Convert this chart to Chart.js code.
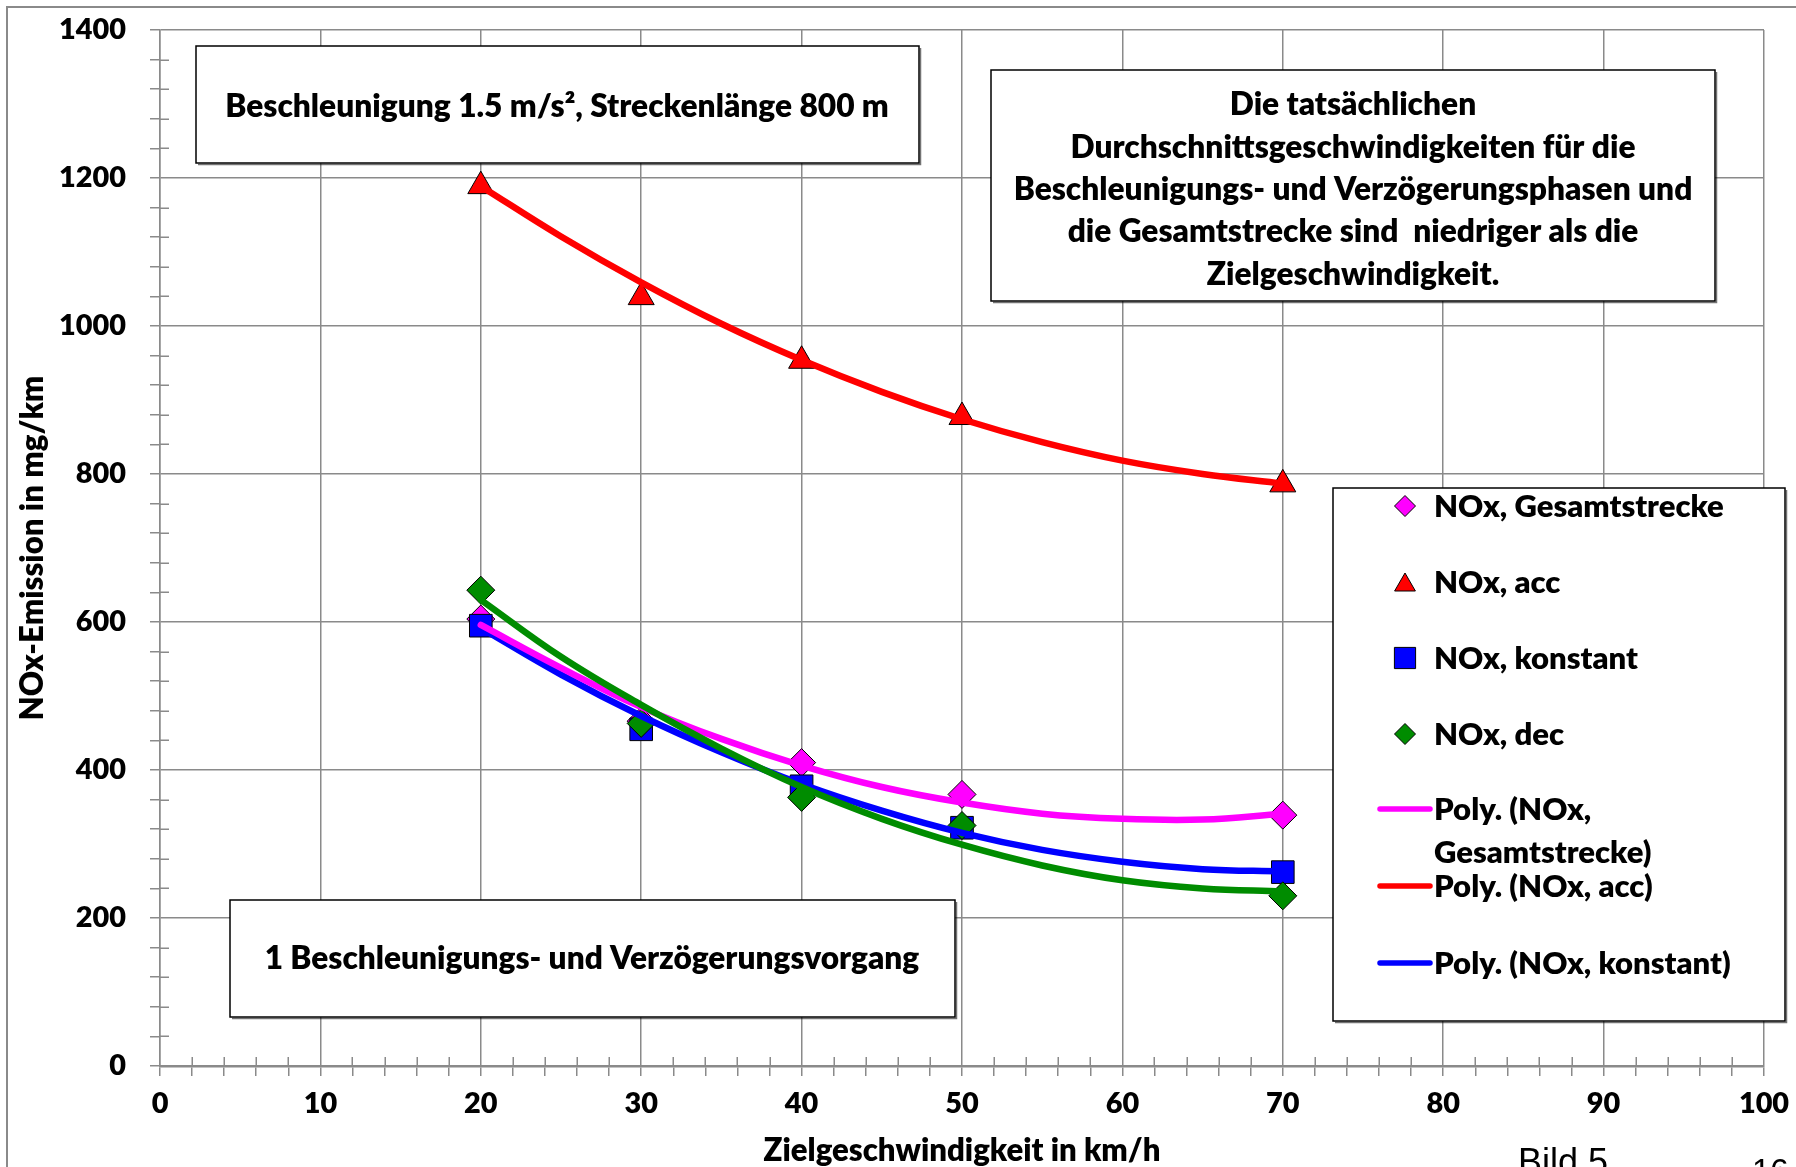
<!DOCTYPE html>
<html>
<head>
<meta charset="utf-8">
<script src="https://cdn.jsdelivr.net/npm/chart.js@4/dist/chart.umd.min.js"></script>
<style>
  html, body { margin: 0; padding: 0; background: #fff; overflow: hidden; }
  #wrap { position: relative; width: 1796px; height: 1167px; }
</style>
</head>
<body>
<div id="wrap"><canvas id="c" width="1796" height="1167"></canvas></div>
<script>
// Measured NOx emissions (mg/km) per target speed (km/h)
const speeds      = [20, 30, 40, 50, 70];
const noxGesamt   = [604, 466, 410, 367, 339];
const noxAcc      = [1189, 1039, 953, 877, 786];
const noxKonstant = [595, 455, 378, 322, 262];
const noxDec      = [643, 463, 363, 325, 230];

// Polynomial trend curves, sampled every 5 km/h
const trendSpeeds   = [20, 25, 30, 35, 40, 45, 50, 55, 60, 65, 70];
const trendGesamt   = [596, 538, 485, 442, 406, 377, 356, 341, 334, 333, 341];
const trendAcc      = [1189, 1121, 1059, 1003, 954, 911, 874, 843, 818, 800, 787];
const trendKonstant = [592, 529, 473, 424, 381, 345, 315, 292, 276, 266, 263];
const trendDec      = [630, 553, 488, 429, 377, 334, 299, 271, 251, 240, 236];

// Axis tick labels
const xTickLabels = [0, 10, 20, 30, 40, 50, 60, 70, 80, 90, 100];
const yTickLabels = [0, 200, 400, 600, 800, 1000, 1200, 1400];

const xTitle = 'Zielgeschwindigkeit in km/h';
const yTitle = 'NOx-Emission in mg/km';

const noteTop = ['Beschleunigung 1.5 m/s², Streckenlänge 800 m'];
const noteRight = [
  'Die tatsächlichen',
  'Durchschnittsgeschwindigkeiten für die',
  'Beschleunigungs- und Verzögerungsphasen und',
  'die Gesamtstrecke sind  niedriger als die',
  'Zielgeschwindigkeit.'
];
const noteBottom = ['1 Beschleunigungs- und Verzögerungsvorgang'];

const MAGENTA = '#FF00FF', RED = '#FF0000', BLUE = '#0000FF', GREEN = '#008C00';
const GRID = '#8a8a8a';
const FONT = 'Lato, "Open Sans", "DejaVu Sans", sans-serif';
const WEIGHT = 800;

// size a heavy font so that a reference string spans a given width
const mctx = document.createElement('canvas').getContext('2d');
function fitSize(text, width) {
  mctx.font = `${WEIGHT} 40px ${FONT}`;
  return 40 * width / mctx.measureText(text).width;
}
const tickSize   = fitSize('1400', 67);
const xTitleSize = fitSize(xTitle, 397);
const yTitleSize = fitSize(yTitle, 345);
const legendSize = fitSize('NOx, Gesamtstrecke', 290);
const noteTopSize = fitSize(noteTop[0], 664);
const noteRightSize = fitSize(noteRight[2], 679);
const noteBottomSize = fitSize(noteBottom[0], 655);

const pts = (xs, ys) => xs.map((x, i) => ({ x, y: ys[i] }));

const legendItems = [
  { kind: 'point', text: ['NOx, Gesamtstrecke'], style: 'rectRot', r: 10.5, color: MAGENTA, y: 506 },
  { kind: 'point', text: ['NOx, acc'], style: 'triangle', r: 12, color: RED, y: 582 },
  { kind: 'point', text: ['NOx, konstant'], style: 'rect', r: 15, color: BLUE, y: 658 },
  { kind: 'point', text: ['NOx, dec'], style: 'rectRot', r: 10.5, color: GREEN, y: 734 },
  { kind: 'line', text: ['Poly. (NOx,', 'Gesamtstrecke)'], color: MAGENTA, y: 809 },
  { kind: 'line', text: ['Poly. (NOx, acc)'], color: RED, y: 886 },
  { kind: 'line', text: ['Poly. (NOx, konstant)'], color: BLUE, y: 963 }
];

function drawBox(ctx, x, y, w, h) {
  ctx.fillStyle = '#fff';
  ctx.fillRect(x, y, w, h);
  ctx.strokeStyle = '#000';
  ctx.lineWidth = 1.5;
  ctx.strokeRect(x, y, w, h);
  ctx.strokeStyle = 'rgba(0,0,0,0.55)';
  ctx.lineWidth = 1.5;
  ctx.beginPath();
  ctx.moveTo(x + 2, y + h + 1.5);
  ctx.lineTo(x + w + 1.5, y + h + 1.5);
  ctx.lineTo(x + w + 1.5, y + 2);
  ctx.stroke();
}

function centeredLines(ctx, lines, cx, firstCapY, step, size) {
  ctx.font = `${WEIGHT} ${size}px ${FONT}`;
  ctx.fillStyle = '#000';
  ctx.textAlign = 'center';
  ctx.textBaseline = 'alphabetic';
  lines.forEach((t, i) => ctx.fillText(t, cx, firstCapY + i * step + 0.36 * size));
}

const decorations = {
  id: 'decorations',
  beforeDraw(chart) {
    const ctx = chart.ctx;
    ctx.save();
    ctx.fillStyle = '#fff';
    ctx.fillRect(0, 0, chart.width, chart.height);
    // chart frame
    ctx.strokeStyle = GRID;
    ctx.lineWidth = 2;
    ctx.beginPath();
    ctx.moveTo(7, chart.height + 5);
    ctx.lineTo(7, 7);
    ctx.lineTo(chart.width + 5, 7);
    ctx.stroke();
    ctx.restore();
  },
  beforeDatasetsDraw(chart) {
    // inner half of the minor tick marks
    const ctx = chart.ctx, xs = chart.scales.x, ys = chart.scales.y;
    ctx.save();
    ctx.strokeStyle = GRID;
    ctx.lineWidth = 1.5;
    ctx.beginPath();
    for (const t of ys.ticks) {
      if (Math.round(t.value) % 200 === 0) continue;
      const py = Math.round(ys.getPixelForValue(t.value)) + 0.25;
      ctx.moveTo(xs.left, py);
      ctx.lineTo(xs.left + 9, py);
    }
    for (const t of xs.ticks) {
      if (Math.round(t.value) % 10 === 0) continue;
      const px = Math.round(xs.getPixelForValue(t.value)) + 0.25;
      ctx.moveTo(px, ys.bottom);
      ctx.lineTo(px, ys.bottom - 9);
    }
    ctx.stroke();
    ctx.restore();
  },
  afterDraw(chart) {
    const ctx = chart.ctx;
    ctx.save();

    // text boxes
    drawBox(ctx, 196, 46, 723, 117);
    centeredLines(ctx, noteTop, 557, 106, 0, noteTopSize);

    drawBox(ctx, 991, 70, 724, 231);
    centeredLines(ctx, noteRight, 1353, 104, 42.3, noteRightSize);

    drawBox(ctx, 230, 900, 725, 117);
    centeredLines(ctx, noteBottom, 592, 958, 0, noteBottomSize);

    // legend
    drawBox(ctx, 1333, 488, 452, 533);
    ctx.font = `${WEIGHT} ${legendSize}px ${FONT}`;
    ctx.textAlign = 'left';
    ctx.textBaseline = 'alphabetic';
    for (const it of legendItems) {
      if (it.kind === 'point') {
        ctx.fillStyle = it.color;
        ctx.strokeStyle = '#000';
        ctx.lineWidth = 1;
        Chart.helpers.drawPoint(ctx, { pointStyle: it.style, radius: it.r, rotation: 0, borderWidth: 1 }, 1405, it.style === 'triangle' ? it.y + 3 : it.y);
      } else {
        ctx.strokeStyle = it.color;
        ctx.lineWidth = 5.5;
        ctx.lineCap = 'round';
        ctx.beginPath();
        ctx.moveTo(1380, it.y);
        ctx.lineTo(1430, it.y);
        ctx.stroke();
      }
      ctx.fillStyle = '#000';
      it.text.forEach((t, i) => ctx.fillText(t, 1434, it.y + i * 43 + 0.36 * legendSize));
    }

    // page caption
    ctx.fillStyle = '#000';
    ctx.font = `36px "Liberation Sans", Arial, sans-serif`;
    ctx.fillText('Bild 5', 1518, 1174);
    ctx.font = `33px "Liberation Sans", Arial, sans-serif`;
    ctx.fillText('16', 1752, 1182);
    ctx.restore();
  }
};

const lineDs = (label, ys, color, order) => ({
  label, data: pts(trendSpeeds, ys), showLine: true,
  borderColor: color, backgroundColor: color, borderWidth: 6.5,
  pointRadius: 0, tension: 0.4, order,
  borderCapStyle: 'round', borderJoinStyle: 'round'
});
const markDs = (label, ys, color, style, r, order) => ({
  label, data: pts(speeds, ys), showLine: false,
  pointStyle: style, pointRadius: r, pointHoverRadius: r,
  backgroundColor: color, borderColor: '#000', pointBorderWidth: 1, borderWidth: 1, order
});

new Chart(document.getElementById('c'), {
  type: 'scatter',
  data: {
    datasets: [
      lineDs('Poly. (NOx, dec)', trendDec, GREEN, 1),
      lineDs('Poly. (NOx, Gesamtstrecke)', trendGesamt, MAGENTA, 2),
      lineDs('Poly. (NOx, konstant)', trendKonstant, BLUE, 3),
      lineDs('Poly. (NOx, acc)', trendAcc, RED, 4),
      markDs('NOx, dec', noxDec, GREEN, 'rectRot', 14, 5),
      markDs('NOx, konstant', noxKonstant, BLUE, 'rect', 16, 6),
      markDs('NOx, Gesamtstrecke', noxGesamt, MAGENTA, 'rectRot', 14, 7),
      markDs('NOx, acc', noxAcc, RED, 'triangle', 15, 8)
    ]
  },
  options: {
    responsive: false,
    animation: false,
    devicePixelRatio: 1,
    layout: { padding: { left: 0, top: 30, right: 32, bottom: 0 } },
    plugins: { legend: { display: false }, tooltip: { enabled: false } },
    scales: {
      x: {
        type: 'linear', min: 0, max: 100,
        afterFit(s) { s.height = 101; s.paddingLeft = 0; s.paddingRight = 0; },
        ticks: {
          stepSize: 2, autoSkip: false, maxRotation: 0, minRotation: 0,
          padding: 10, color: '#000',
          font: { family: FONT, weight: WEIGHT, size: tickSize },
          callback: v => xTickLabels.includes(Math.round(v)) ? String(Math.round(v)) : ''
        },
        grid: {
          color: c => (c.tick && Math.round(c.tick.value) % 10 === 0) ? GRID : 'rgba(0,0,0,0)',
          tickColor: GRID, lineWidth: 1.5, tickLength: 10
        },
        border: { color: GRID, width: 2.5 },
        title: {
          display: true, text: xTitle, color: '#000',
          font: { family: FONT, weight: WEIGHT, size: xTitleSize },
          padding: { top: 0, bottom: -3 }
        }
      },
      y: {
        type: 'linear', min: 0, max: 1400,
        afterFit(s) { s.width = 160; s.paddingTop = 0; s.paddingBottom = 0; },
        ticks: {
          stepSize: 40, autoSkip: false, padding: 24, color: '#000',
          font: { family: FONT, weight: WEIGHT, size: tickSize },
          callback: v => yTickLabels.includes(Math.round(v)) ? String(Math.round(v)) : ''
        },
        grid: {
          color: c => (c.tick && Math.round(c.tick.value) % 200 === 0) ? GRID : 'rgba(0,0,0,0)',
          tickColor: GRID, lineWidth: 1.5, tickLength: 10
        },
        border: { color: GRID, width: 1.5 },
        title: {
          display: true, text: yTitle, color: '#000',
          font: { family: FONT, weight: WEIGHT, size: yTitleSize },
          padding: { top: 14, bottom: 0 }
        }
      }
    }
  },
  plugins: [decorations]
});
</script>
</body>
</html>
